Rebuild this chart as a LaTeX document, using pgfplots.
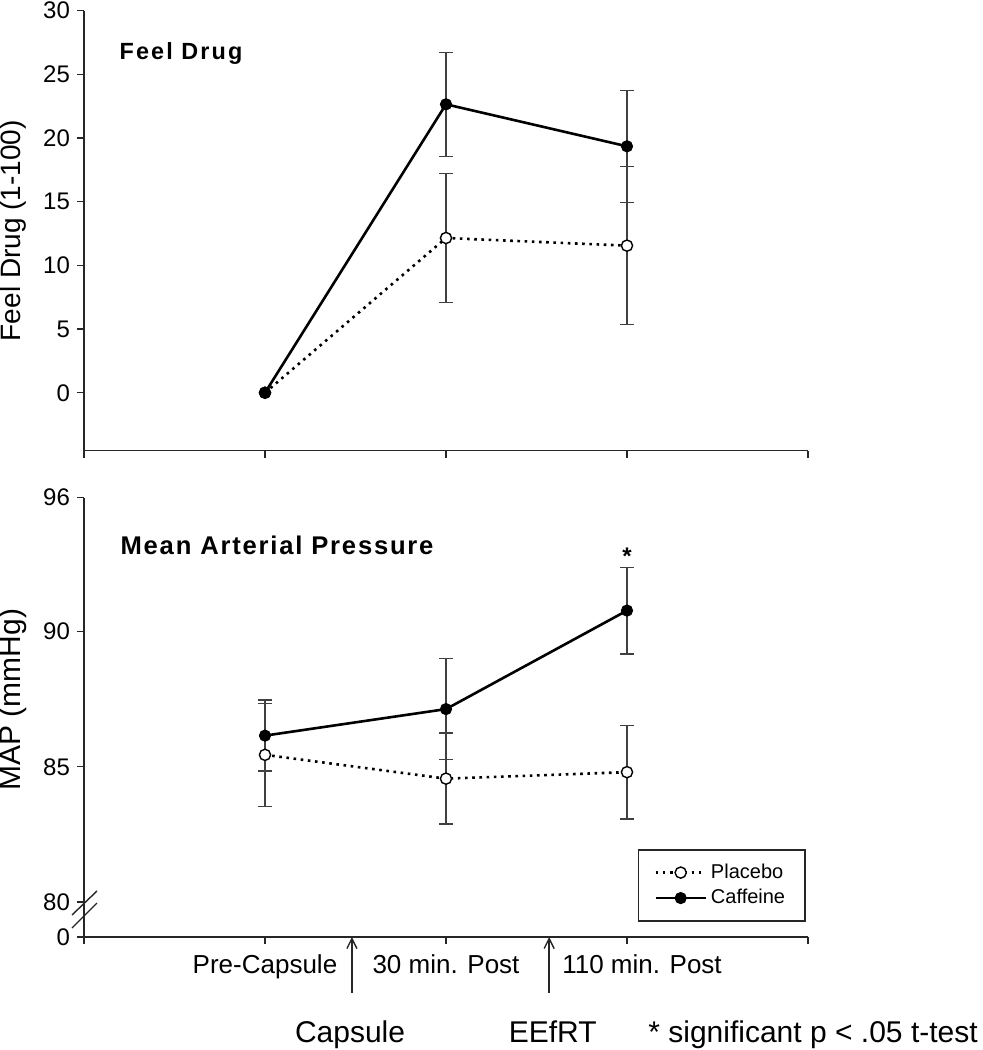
\documentclass[border=0pt]{standalone}
\usepackage{fontspec}
\setmainfont{Liberation Sans}
\newfontfamily\titleA[LetterSpace=9]{Liberation Sans}
\newfontfamily\titleB[LetterSpace=7]{Liberation Sans}
\usepackage{pgfplots}
\usepackage{pgfplotstable}
\pgfplotsset{compat=1.18}
\usetikzlibrary{arrows.meta}

% Feel Drug (1-100)
\pgfplotstableread{
x y e
1 0 0
2 12.15 5.05
3 11.55 6.2
}\feelplac
\pgfplotstableread{
x y e
1 0 0
2 22.65 4.08
3 19.35 4.4
}\feelcaff
% MAP (mmHg)
\pgfplotstableread{
x y e
1 85.44 1.9
2 84.56 1.68
3 84.80 1.73
}\mapplac
\pgfplotstableread{
x y e
1 86.15 1.31
2 87.13 1.87
3 90.77 1.6
}\mapcaff

\pgfplotsset{
  common/.style={
    scale only axis, width=362pt,
    xmin=0, xmax=4, xtick={0,...,4},
    axis lines=left,
    axis line style={-, line width=0.7pt, black!85},
    tick align=outside, major tick length=3.5pt,
    every tick/.style={black!85, line width=0.7pt},
    clip=false,
    tick label style={font=\fontsize{12}{14}\selectfont},
    /pgf/number format/assume math mode=true,
  },
  placebo/.style={black, line width=1.3pt, dash pattern=on 1.3pt off 2.3pt,
    mark=*, mark size=2.8pt, mark options={solid, fill=white, draw=black, line width=0.7pt}},
  caffeine/.style={black, line width=1.3pt,
    mark=*, mark size=2.8pt, mark options={solid, fill=black, line width=0.5pt}},
  ebars/.style={forget plot, draw=none, mark=none,
    error bars/.cd, y dir=both, y explicit,
    error bar style={draw=black!75, solid, line width=0.7pt},
    error mark options={draw=black!75, solid, line width=0.7pt, mark size=3.3pt, rotate=90}},
}

\begin{document}
\begin{tikzpicture}
\path[use as bounding box] (-42pt,-56.5pt) rectangle (449.5pt,468.5pt);

\begin{axis}[common, at={(0pt,243.15pt)}, anchor=south west, height=220pt,
  ymin=-4.55, ymax=30, ytick={0,5,...,30}, xticklabels={},
  ylabel={Feel Drug (1-100)},
  ylabel style={at={(axis description cs:-0.098,0.5)}, anchor=center, font=\fontsize{14}{16}\selectfont},
]
% error bars first (the pre-capsule rows have none)
\addplot[skip coords between index={0}{1}, ebars] table[x=x, y=y, y error=e] {\feelplac};
\addplot[skip coords between index={0}{1}, ebars] table[x=x, y=y, y error=e] {\feelcaff};
\addplot[placebo] table[x=x, y=y] {\feelplac};
\addplot[caffeine] table[x=x, y=y] {\feelcaff};
\node[anchor=base west, inner sep=0pt, font=\titleA\bfseries\fontsize{11.7}{13}\selectfont] at (axis cs:0.195,26.13) {Feel Drug};
\end{axis}

\begin{axis}[common, at={(0pt,0pt)}, anchor=south west, height=219.65pt,
  ymin=78.71, ymax=94.94, ytick={78.71,80,85,90,94.94}, yticklabels={0,80,85,90,96},
  xticklabels={,Pre-Capsule,30 min. Post,\hspace*{15pt}110 min. Post,},
  xticklabel style={font=\fontsize{13}{15}\selectfont, yshift=-2pt},
  ylabel={MAP (mmHg)},
  ylabel style={at={(axis description cs:-0.098,0.54)}, anchor=center, font=\fontsize{15}{17}\selectfont},
  legend style={at={(rel axis cs:0.997,0.2)}, anchor=north east, draw=black!85, line width=0.7pt,
    font=\fontsize{10}{12}\selectfont, inner xsep=8pt, inner ysep=5pt, cells={anchor=west}},
  legend image code/.code={\draw[mark repeat=2, mark phase=2, #1] plot coordinates {(0pt,0pt) (12.5pt,0pt) (25pt,0pt)};},
]
\addplot[ebars] table[x=x, y=y, y error=e] {\mapplac};
\addplot[ebars] table[x=x, y=y, y error=e] {\mapcaff};
\addplot[placebo] table[x=x, y=y] {\mapplac};
\addlegendentry{Placebo}
\addplot[caffeine] table[x=x, y=y] {\mapcaff};
\addlegendentry{Caffeine}
\node[anchor=base west, inner sep=0pt, font=\titleB\bfseries\fontsize{12.8}{14}\selectfont] at (axis cs:0.2,92.83) {Mean Arterial Pressure};
\node[anchor=base, inner sep=0pt, font=\bfseries\fontsize{12}{14}\selectfont] at (axis cs:3,92.46) {*};
% axis break
\draw[black!85, line width=0.7pt] ([xshift=-6pt,yshift=11pt]axis cs:0,78.71) -- ([xshift=6.5pt,yshift=23pt]axis cs:0,78.71);
\draw[black!85, line width=0.7pt] ([xshift=-6pt,yshift=4.5pt]axis cs:0,78.71) -- ([xshift=6.5pt,yshift=17pt]axis cs:0,78.71);
% events
\draw[black!85, line width=0.7pt, {Straight Barb[length=5pt,width=5pt]}-] (axis cs:1.48,78.71) -- ([yshift=-28pt]axis cs:1.48,78.71);
\draw[black!85, line width=0.7pt, {Straight Barb[length=5pt,width=5pt]}-] (axis cs:2.57,78.71) -- ([yshift=-28pt]axis cs:2.57,78.71);
\node[anchor=base, inner sep=0pt, font=\fontsize{15}{18}\selectfont] at ([yshift=-52.85pt]axis cs:1.47,78.71) {Capsule};
\node[anchor=base, inner sep=0pt, font=\fontsize{15}{18}\selectfont] at ([yshift=-52.85pt]axis cs:2.59,78.71) {EEfRT};
\node[anchor=base west, inner sep=0pt, font=\fontsize{15}{18}\selectfont] at ([yshift=-52.85pt]axis cs:3.116,78.71) {* significant p < .05 t-test};
\end{axis}
\end{tikzpicture}
\end{document}
